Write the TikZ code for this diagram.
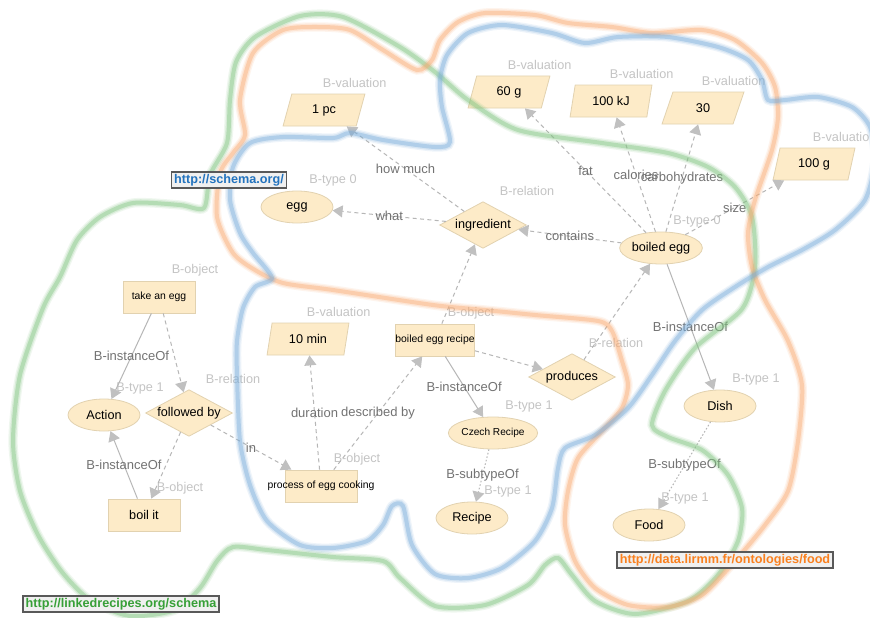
\documentclass[tikz,border=0pt]{standalone}
\usepackage{fontspec}
\setmainfont{Liberation Sans}
\usepackage{xcolor}
\usepackage{tikz}
\usetikzlibrary{shapes.geometric, arrows.meta}

\definecolor{nodefill}{RGB}{253,235,200}
\definecolor{nodeline}{RGB}{226,210,176}
\definecolor{typegray}{RGB}{196,196,196}
\definecolor{edgegray}{RGB}{115,115,115}
\definecolor{linegray}{RGB}{182,182,182}
\definecolor{tipgray}{RGB}{192,192,192}
\definecolor{hullgreen}{RGB}{128,196,128}
\definecolor{hullorange}{RGB}{250,170,112}
\definecolor{hullblue}{RGB}{120,172,218}
\definecolor{urlblue}{RGB}{35,115,190}
\definecolor{urlorange}{RGB}{250,128,30}
\definecolor{urlgreen}{RGB}{55,160,55}

\tikzstyle{nodebox} = [draw=nodeline, fill=nodefill, line width=0.6pt, inner sep=0pt, font=\fontsize{9.5}{11}\selectfont]
\tikzstyle{smalltext} = [font=\fontsize{7.8}{9}\selectfont]
\tikzstyle{typelbl} = [text=typegray, fill=none, draw=none, inner sep=0pt, font=\fontsize{9.5}{11}\selectfont]
\tikzstyle{obj}     = [nodebox, rectangle, minimum width=54pt, minimum height=24pt,
                       label={[typelbl, xshift=27pt, yshift=20pt]center:B-object}]
\tikzstyle{typ}     = [nodebox, ellipse, minimum width=54pt, minimum height=24pt,
                       label={[typelbl, xshift=27pt, yshift=20pt]center:B-type #1}]
\tikzstyle{relnode} = [nodebox, diamond, aspect=2, minimum width=65pt, minimum height=35pt,
                       label={[typelbl, xshift=33pt, yshift=25.5pt]center:B-relation}]
\tikzstyle{val}     = [nodebox, trapezium, trapezium left angle=74, trapezium right angle=106,
                       trapezium stretches=true, minimum width=61.5pt, minimum height=24pt,
                       label={[typelbl, xshift=23pt, yshift=20pt]center:B-valuation}]
\tikzstyle{elbl}    = [text=edgegray, inner sep=0pt, font=\fontsize{9.75}{11}\selectfont]
\tikzstyle{rel}     = [draw=linegray, line width=0.75pt, dash pattern=on 3pt off 2.5pt,
                       -{Triangle[length=7.5pt, width=9pt, color=tipgray]}]
\tikzstyle{inst}    = [draw=linegray, line width=0.75pt, -{Triangle[length=7.5pt, width=9pt, color=tipgray]}]
\tikzstyle{sub}     = [draw=linegray, line width=0.75pt, dash pattern=on 1.2pt off 1.5pt,
                       -{Triangle[length=7.5pt, width=9pt, color=tipgray]}]
\tikzstyle{url}     = [draw=black!65, fill=black!6, line width=1pt, inner xsep=2pt, inner ysep=1.5pt,
                       font=\bfseries\fontsize{9.5}{11}\selectfont]

\newcommand\drawhull[2]{%
  \foreach \w/\o in {7/0.12,5/0.2,3/0.4}
    \draw[#1, line width=\w pt, opacity=\o] plot[smooth cycle, tension=0.45] coordinates {#2};}

\begin{document}
\begin{tikzpicture}[x=0.75pt, y=-0.75pt]
  \fill[white] (0,0) rectangle (870,617);
  \useasboundingbox (0,0) rectangle (870,617);

  % valuations
  \node[val] (onepc)   at (324,110) {1 pc};
  \node[val] (sixty)   at (509,92)  {60 g};
  \node[val] (kj)      at (611,101) {100 kJ};
  \node[val] (thirty)  at (703,108) {30};
  \node[val] (hundred) at (814,164) {100 g};
  \node[val] (tenmin)  at (308,339) {10 min};

  % types
  \node[typ=0] (egg)    at (297,207) {egg};
  \node[typ=0] (boiled) at (661,248) {boiled egg};
  \node[typ=1] (action) at (104,415) {Action};
  \node[typ=1, font=\fontsize{7.6}{9}\selectfont] (czech) at (493,433) {Czech Recipe};
  \node[typ=1] (recipe) at (472,518) {Recipe};
  \node[typ=1] (dish)   at (720,406) {Dish};
  \node[typ=1] (food)   at (649,525) {Food};

  % relations
  \node[relnode] (ingr)   at (483,225) {ingredient};
  \node[relnode] (follow) at (189,413) {followed by};
  \node[relnode] (prod)   at (572,377) {produces};

  % objects
  \node[obj, smalltext] (take)     at (159,297) {take an egg};
  \node[obj]            (boil)     at (144,515) {boil it};
  \node[obj, smalltext] (egrecipe) at (435,340) {boiled egg recipe};
  \node[obj, smalltext] (cook)     at (321,486) {\makebox[0pt]{process of egg cooking}};

  % links
  \draw[rel] (ingr) -- node[elbl]{how much} (onepc);
  \draw[rel] (ingr) -- node[elbl]{what} (egg);
  \draw[rel] (boiled) -- node[elbl]{contains} (ingr);
  \draw[rel] (boiled) -- node[elbl]{fat} (sixty);
  \draw[rel] (boiled) -- node[elbl]{calories} (kj);
  \draw[rel] (boiled) -- node[elbl]{carbohydrates} (thirty);
  \draw[rel] (boiled) -- node[elbl]{size} (hundred);
  \draw[inst] (boiled) -- node[elbl]{B-instanceOf} (dish);
  \draw[sub] (dish) -- node[elbl]{B-subtypeOf} (food);
  \draw[rel] (egrecipe) -- (ingr);
  \draw[rel] (egrecipe) -- (prod);
  \draw[rel] (prod) -- (boiled);
  \draw[inst] (egrecipe) -- node[elbl]{B-instanceOf} (czech);
  \draw[sub] (czech) -- node[elbl]{B-subtypeOf} (recipe);
  \draw[rel] (cook) -- node[elbl]{duration} (tenmin);
  \draw[rel] (cook) -- node[elbl]{described by} (egrecipe);
  \draw[rel] (follow) -- node[elbl]{in} (cook);
  \draw[rel] (take) -- (follow);
  \draw[rel] (follow) -- (boil);
  \draw[inst] (take) -- node[elbl]{B-instanceOf} (action);
  \draw[inst] (boil) -- node[elbl]{B-instanceOf} (action);

  % hulls
  \drawhull{hullgreen}{(230,100) (236,62) (255,37) (300,16) (343,17) (400,47) (435,72) (468,100)
    (518,130) (602,143) (668,153) (708,167) (735,187) (752,217) (755,267) (742,309) (695,348)
    (665,391) (652,425) (668,437) (702,450) (728,475) (742,508) (738,541) (718,575) (688,601)
    (635,614) (595,601) (572,575) (558,558) (545,565) (528,585) (485,605) (435,606) (400,578)
    (383,561) (333,557) (267,550) (233,547) (217,561) (200,588) (175,610) (130,616) (90,600)
    (62,572) (38,535) (20,491) (13,441) (20,375) (43,308) (60,277) (77,240) (100,217) (133,203)
    (180,205) (204,208) (210,175) (227,143)}
  \drawhull{hullorange}{(240,100) (253,53) (283,30) (317,27) (350,30) (383,50) (417,70) (432,60)
    (440,40) (458,22) (485,13) (535,15) (568,23) (612,27) (652,33) (702,30) (735,40) (762,63)
    (775,87) (778,117) (772,150) (755,200) (748,233) (752,267) (765,300) (788,341) (802,385)
    (798,441) (788,491) (765,525) (735,561) (702,595) (668,607) (628,605) (595,588) (575,561)
    (565,525) (568,491) (578,458) (602,431) (622,408) (628,385) (622,361) (612,331) (598,321)
    (535,315) (485,310) (433,305) (333,290) (283,283) (255,270) (233,253) (217,217) (220,173)
    (233,153) (245,135)}
  \drawhull{hullblue}{(250,143) (283,137) (333,138) (350,133) (383,140) (435,147) (450,142)
    (442,107) (440,80) (447,55) (468,33) (502,25) (552,33) (585,43) (618,37) (668,37) (718,47)
    (748,60) (762,80) (768,100) (785,100) (818,97) (852,107) (870,127) (875,160) (865,200)
    (835,230) (802,250) (768,267) (735,287) (702,310) (675,341) (652,375) (628,408) (595,435)
    (565,448) (558,468) (552,508) (535,541) (502,568) (468,578) (435,574) (412,545) (403,506)
    (392,506) (383,525) (367,541) (333,548) (300,545) (267,521) (250,485) (240,441) (237,375)
    (237,341) (243,308) (255,287) (272,278) (253,253) (240,233) (230,200) (233,167)}

  % namespaces
  \node[url, text=urlblue]   (schema) at (229,180) {http://schema.org/};
  \node[url, text=urlorange] (lirmm)  at (725,560) {http://data.lirmm.fr/ontologies/food};
  \node[url, text=urlgreen]  (linked) at (121,604) {http://linkedrecipes.org/schema};
\end{tikzpicture}
\end{document}
